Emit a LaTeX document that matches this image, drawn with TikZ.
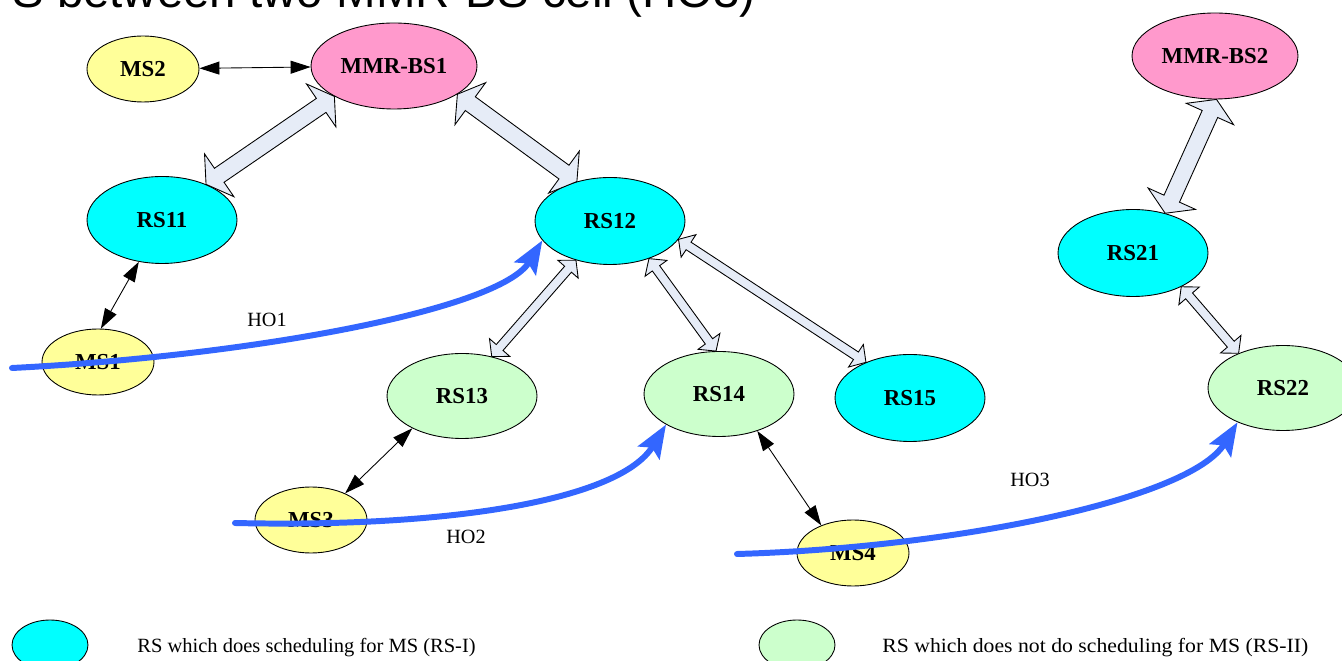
\documentclass[tikz,border=0pt]{standalone}
\usepackage{fontspec}
\setmainfont{Liberation Serif}
\setsansfont{Liberation Sans}
\usetikzlibrary{shapes.geometric,arrows.meta,calc}

\definecolor{msyellow}{HTML}{FFFF99}
\definecolor{bspink}{HTML}{FF99CC}
\definecolor{rsone}{HTML}{00FFFF}
\definecolor{rstwo}{HTML}{CCFFCC}
\definecolor{pipefill}{HTML}{E6ECF7}
\definecolor{hoblue}{HTML}{3366FF}

% block double arrow: #1,#2 tips, #3 half shaft, #4 half head, #5 head length
\newcommand{\fatlink}[5]{%
  \coordinate (fa1) at ($(#1)!#5!(#2)$);
  \coordinate (fa2) at ($(#2)!#5!(#1)$);
  \draw[pipe] (#1) -- ($(fa1)!#4!90:(#2)$) -- ($(fa1)!#3!90:(#2)$)
    -- ($(fa2)!#3!-90:(#1)$) -- ($(fa2)!#4!-90:(#1)$) -- (#2)
    -- ($(fa2)!#4!90:(#1)$) -- ($(fa2)!#3!90:(#1)$)
    -- ($(fa1)!#3!-90:(#2)$) -- ($(fa1)!#4!-90:(#2)$) -- cycle;
}

\begin{document}
\begin{tikzpicture}[x=0.02cm, y=-0.02cm,
  every node/.style={inner sep=0pt},
  station/.style={ellipse, draw, line width=0.5pt, font=\bfseries\fontsize{13}{13}\selectfont},
  ms/.style={station, fill=msyellow, minimum width=2.24cm, minimum height=1.32cm},
  bs/.style={station, fill=bspink, minimum width=3.32cm, minimum height=1.72cm},
  rsi/.style={station, fill=rsone, minimum width=3cm, minimum height=1.74cm},
  rsii/.style={station, fill=rstwo, minimum width=3cm, minimum height=1.70cm},
  key/.style={ellipse, draw, line width=0.5pt, minimum width=1.52cm, minimum height=1cm},
  pipe/.style={draw=black, fill=pipefill, line width=0.5pt},
  link/.style={<->, >={Triangle[length=0.4cm,width=0.26cm]}, line width=0.5pt},
  ho/.style={hoblue, line width=3.4pt, line cap=round, -{Stealth[length=0.66cm,width=0.5cm,inset=0.12cm]}},
  lbl/.style={font=\fontsize{11.5}{12}\selectfont}]
\useasboundingbox (0,0) rectangle (1342,661);
\clip (0,0) rectangle (1342,661);

\node[anchor=base east, font=\sffamily\fontsize{27}{27}\selectfont] (title) at (756,8) {S between two MMR-BS cell (HO3)};

% stations
\node[bs] (mmr1) at (394,66) {MMR-BS1};
\node[bs] (mmr2) at (1215,56) {MMR-BS2};
\node[ms] (ms2) at (143,69) {MS2};
\node[rsi] (rs11) at (162,220) {RS11};
\node[rsi] (rs12) at (610,221) {RS12};
\node[ms] (ms1) at (98,362) {MS1};
\node[rsii] (rs13) at (462,396) {RS13};
\node[rsii] (rs14) at (719,394) {RS14};
\node[rsi] (rs15) at (910,398) {RS15};
\node[ms] (ms3) at (311,520) {MS3};
\node[ms] (ms4) at (853,553) {MS4};
\node[rsi] (rs21) at (1133,253) {RS21};
\node[rsii] (rs22) at (1283,388) {RS22};

% relay links
\fatlink{mmr1.207}{rs11.39}{0.17cm}{0.52cm}{0.32cm}
\fatlink{mmr1.336}{rs12.130}{0.17cm}{0.52cm}{0.32cm}
\fatlink{mmr2.272}{rs21.51}{0.17cm}{0.52cm}{0.32cm}
\fatlink{rs12.229}{rs13.53}{0.09cm}{0.27cm}{0.24cm}
\fatlink{rs12.316}{rs14.94}{0.09cm}{0.27cm}{0.24cm}
\fatlink{rs12.345}{rs15.141}{0.09cm}{0.27cm}{0.24cm}
\fatlink{rs21.325}{rs22.142}{0.09cm}{0.27cm}{0.24cm}

% access links
\draw[link] (ms2) -- (mmr1);
\draw[link] (rs11.241) -- (ms1.85);
\draw[link] (rs13.213) -- (ms3.38);
\draw[link] (rs14.316) -- (ms4.139);

% handovers
\node[lbl] (ho1) at (267,320) {HO1};
\node[lbl] (ho2) at (466,537) {HO2};
\node[lbl] (ho3) at (1030,480) {HO3};
\coordinate (ho1s) at (12,368);
\coordinate (ho2s) at (235,523);
\coordinate (ho3s) at (737,554);
\draw[ho] (ho1s) .. controls (250,356) and (500,310) .. (rs12.196);
\draw[ho] (ho2s) .. controls (450,528) and (620,500) .. (rs14.210);
\draw[ho] (ho3s) .. controls (950,548) and (1190,500) .. (rs22.217);

% legend
\node[key, fill=rsone] (key1) at (50,645) {};
\node[key, fill=rstwo] (key2) at (797,645) {};
\node[lbl, anchor=base west] (key1t) at (137,653) {\scalebox{1.015}[1]{RS which does scheduling for MS (RS-I)}};
\node[lbl, anchor=base west] (key2t) at (882,653) {\scalebox{1.075}[1]{RS which does not do scheduling for MS (RS-II)}};
\end{tikzpicture}
\end{document}
